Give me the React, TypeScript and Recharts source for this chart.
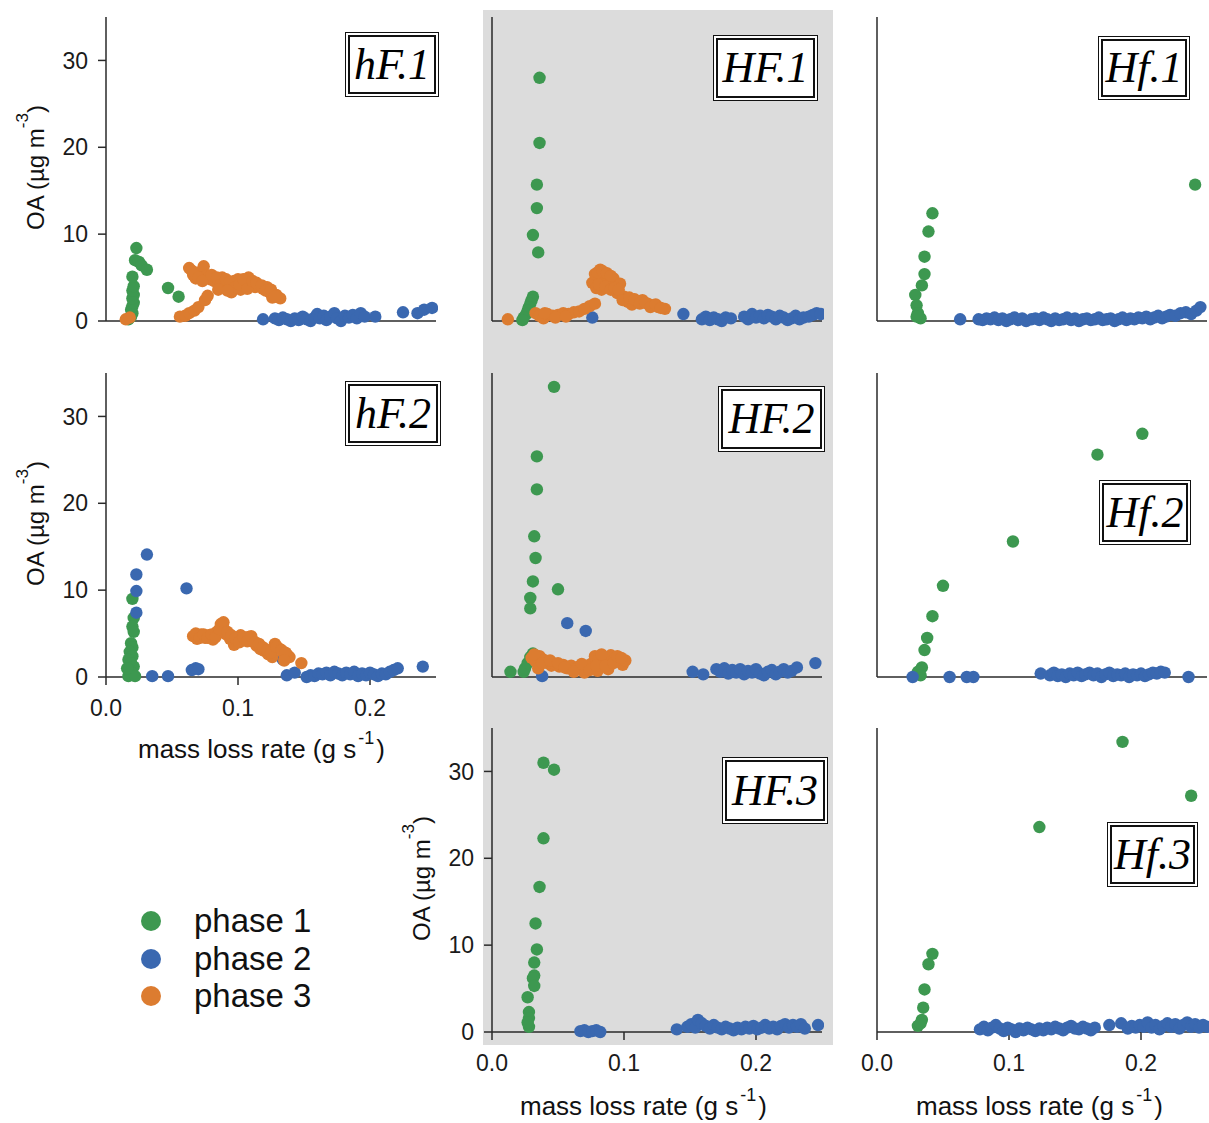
import { Scatter, ScatterChart, XAxis, YAxis } from "recharts"

const GREEN = "#3d9850"
const BLUE = "#3a68b0"
const ORANGE = "#dc7c30"

type Pt = [number, number]

const xTicks = [0, 0.1, 0.2]
const yTicks = [0, 10, 20, 30]
const phaseNames = ["phase 1", "phase 2", "phase 3"]
const panelNames = ["hF.1", "HF.1", "Hf.1", "hF.2", "HF.2", "Hf.2", "HF.3", "Hf.3"]

// ---- hF.1
const hF1_p1: Pt[] = [[0.017,0.2],[0.019,0.5],[0.020,0.9],[0.019,1.3],[0.020,1.7],[0.021,2.1],[0.020,2.6],[0.021,3.0],[0.020,3.5],[0.021,4.0],[0.020,5.1],[0.022,7.0],[0.023,8.4],[0.025,6.8],[0.027,6.4],[0.031,5.9],[0.047,3.8],[0.055,2.8]]
const hF1_p2: Pt[] = [[0.119,0.2],[0.128,0.3],[0.131,0.1],[0.134,0.4],[0.137,0.2],[0.140,0.0],[0.143,0.3],[0.146,0.1],[0.149,0.5],[0.152,0.2],[0.155,0.0],[0.158,0.4],[0.160,0.8],[0.162,0.3],[0.165,0.6],[0.167,0.1],[0.170,0.5],[0.173,0.9],[0.175,0.3],[0.178,0.0],[0.181,0.6],[0.184,0.4],[0.187,0.7],[0.190,0.3],[0.193,0.9],[0.196,0.5],[0.204,0.5],[0.225,1.0],[0.236,0.9],[0.241,1.3],[0.247,1.5]]
const hF1_p3: Pt[] = [[0.015,0.2],[0.018,0.4],[0.056,0.5],[0.060,0.6],[0.063,0.9],[0.067,1.2],[0.070,1.6],[0.075,2.4],[0.077,2.9],[0.063,6.1],[0.066,5.3],[0.068,4.9],[0.071,5.6],[0.074,6.3],[0.076,5.2],[0.079,4.8],[0.082,4.6],[0.085,4.4],[0.088,5.0],[0.090,4.3],[0.093,3.8],[0.095,3.3],[0.097,4.6],[0.100,4.8],[0.102,3.6],[0.105,4.1],[0.108,5.0],[0.110,4.3],[0.113,3.9],[0.116,4.0],[0.119,3.7],[0.122,3.9],[0.124,3.3],[0.126,2.7],[0.129,3.0],[0.132,2.6],[0.065,5.8],[0.070,5.0],[0.073,4.6],[0.080,5.3],[0.084,5.0],[0.087,4.2],[0.091,4.8],[0.094,4.5],[0.098,3.9],[0.101,4.2],[0.104,4.8],[0.107,3.7],[0.111,4.6],[0.114,4.4],[0.118,4.1],[0.121,3.5],[0.125,3.6],[0.128,2.8],[0.085,3.6],[0.092,3.5]]

// ---- HF.1
const HF1_p1: Pt[] = [[0.036,28.0],[0.036,20.5],[0.034,15.7],[0.034,13.0],[0.031,9.9],[0.035,7.9],[0.031,2.8],[0.030,2.4],[0.029,2.0],[0.028,1.6],[0.027,1.2],[0.026,0.8],[0.024,0.4],[0.023,0.1]]
const HF1_p2: Pt[] = [[0.076,0.4],[0.145,0.8],[0.159,0.2],[0.162,0.5],[0.165,0.1],[0.168,0.4],[0.171,0.2],[0.174,0.0],[0.177,0.4],[0.181,0.3],[0.191,0.5],[0.194,0.2],[0.197,0.8],[0.200,0.4],[0.203,0.6],[0.206,0.3],[0.209,0.7],[0.212,0.5],[0.215,0.2],[0.218,0.6],[0.221,0.4],[0.224,0.1],[0.227,0.3],[0.230,0.6],[0.233,0.2],[0.236,0.4],[0.240,0.5],[0.243,0.7],[0.246,0.9],[0.249,0.8]]
const HF1_p3: Pt[] = [[0.012,0.2],[0.033,0.9],[0.036,0.6],[0.039,0.3],[0.042,0.8],[0.046,0.6],[0.050,0.7],[0.054,0.9],[0.058,0.8],[0.062,1.0],[0.066,1.1],[0.070,1.4],[0.074,1.7],[0.078,2.0],[0.076,4.4],[0.078,5.4],[0.082,5.9],[0.085,5.2],[0.083,3.6],[0.088,4.5],[0.092,4.9],[0.095,3.2],[0.097,4.3],[0.100,2.8],[0.103,2.2],[0.106,1.9],[0.110,2.3],[0.114,2.4],[0.118,2.0],[0.122,1.8],[0.126,1.6],[0.131,1.4],[0.080,5.6],[0.084,5.7],[0.087,5.5],[0.090,5.2],[0.079,3.8],[0.081,4.2],[0.086,4.0],[0.090,3.6],[0.093,3.8],[0.096,3.6],[0.099,2.4],[0.104,2.7],[0.108,2.5],[0.112,2.0],[0.116,2.1],[0.120,1.6],[0.124,1.9],[0.128,1.5],[0.040,0.9],[0.048,0.4],[0.056,0.5]]

// ---- Hf.1
const Hf1_p1: Pt[] = [[0.241,15.7],[0.042,12.4],[0.039,10.3],[0.036,7.4],[0.036,5.4],[0.034,4.1],[0.029,3.0],[0.030,1.8],[0.031,0.9],[0.033,0.3],[0.030,0.5]]
const Hf1_p2: Pt[] = [[0.063,0.2],[0.077,0.2],[0.080,0.1],[0.083,0.3],[0.086,0.2],[0.089,0.4],[0.092,0.1],[0.095,0.3],[0.098,0.0],[0.101,0.2],[0.104,0.4],[0.107,0.1],[0.110,0.3],[0.113,0.0],[0.117,0.2],[0.120,0.3],[0.123,0.1],[0.126,0.4],[0.129,0.2],[0.132,0.0],[0.135,0.3],[0.138,0.1],[0.141,0.2],[0.144,0.4],[0.147,0.1],[0.150,0.3],[0.153,0.0],[0.156,0.2],[0.159,0.3],[0.162,0.1],[0.165,0.2],[0.168,0.4],[0.171,0.1],[0.174,0.2],[0.177,0.3],[0.180,0.0],[0.183,0.2],[0.186,0.4],[0.189,0.1],[0.192,0.3],[0.195,0.2],[0.198,0.4],[0.201,0.3],[0.204,0.5],[0.207,0.2],[0.210,0.4],[0.213,0.6],[0.216,0.3],[0.219,0.5],[0.222,0.7],[0.226,0.6],[0.230,0.9],[0.234,1.0],[0.238,0.8],[0.242,1.2],[0.245,1.6]]
const Hf1_p3: Pt[] = []

// ---- hF.2
const hF2_p1: Pt[] = [[0.020,9.0],[0.021,6.8],[0.020,5.8],[0.021,5.2],[0.019,3.9],[0.020,3.4],[0.018,2.9],[0.020,2.4],[0.017,2.0],[0.019,1.6],[0.021,1.2],[0.018,0.8],[0.020,0.4],[0.017,0.1],[0.022,0.1],[0.016,1.0]]
const hF2_p2: Pt[] = [[0.031,14.1],[0.023,11.8],[0.023,9.9],[0.023,7.4],[0.061,10.2],[0.035,0.1],[0.047,0.1],[0.065,0.8],[0.068,1.0],[0.070,0.9],[0.134,2.0],[0.137,0.2],[0.143,0.5],[0.152,0.0],[0.155,0.2],[0.158,0.1],[0.161,0.4],[0.164,0.3],[0.167,0.5],[0.170,0.2],[0.173,0.6],[0.176,0.4],[0.179,0.2],[0.182,0.5],[0.185,0.3],[0.188,0.6],[0.191,0.1],[0.194,0.4],[0.197,0.2],[0.200,0.5],[0.203,0.3],[0.206,0.1],[0.209,0.4],[0.212,0.3],[0.215,0.6],[0.218,0.8],[0.221,1.0],[0.240,1.2]]
const hF2_p3: Pt[] = [[0.066,4.7],[0.069,4.4],[0.072,4.9],[0.075,4.5],[0.078,4.8],[0.081,4.3],[0.084,5.2],[0.087,6.1],[0.089,5.6],[0.091,4.9],[0.094,4.4],[0.097,3.7],[0.099,4.2],[0.102,4.8],[0.105,4.3],[0.108,4.6],[0.111,4.1],[0.114,3.6],[0.117,3.2],[0.120,3.0],[0.123,2.6],[0.126,2.3],[0.128,3.8],[0.131,3.3],[0.134,2.9],[0.137,2.6],[0.139,2.3],[0.148,1.6],[0.068,5.0],[0.071,4.5],[0.074,4.9],[0.077,4.5],[0.080,4.9],[0.083,4.6],[0.086,5.5],[0.089,6.3],[0.092,5.2],[0.095,4.8],[0.098,4.5],[0.101,4.0],[0.104,4.6],[0.107,4.1],[0.110,4.7],[0.113,4.0],[0.116,3.8],[0.119,3.4],[0.122,3.1],[0.125,2.8],[0.129,3.5],[0.133,3.1],[0.136,2.8],[0.135,1.9]]

// ---- HF.2
const HF2_p1: Pt[] = [[0.047,33.4],[0.034,25.4],[0.034,21.6],[0.032,16.2],[0.033,13.7],[0.031,11.0],[0.050,10.1],[0.029,9.1],[0.029,7.9],[0.014,0.6],[0.024,0.6],[0.025,1.0],[0.027,1.6],[0.029,2.3],[0.031,2.7]]
const HF2_p2: Pt[] = [[0.057,6.2],[0.071,5.3],[0.038,0.1],[0.152,0.6],[0.160,0.3],[0.170,0.9],[0.173,0.6],[0.176,1.0],[0.179,0.4],[0.182,0.8],[0.185,0.5],[0.188,0.9],[0.191,0.3],[0.194,0.7],[0.197,0.5],[0.200,0.9],[0.203,0.4],[0.206,0.2],[0.209,0.6],[0.212,0.8],[0.215,0.3],[0.218,0.6],[0.221,0.9],[0.224,0.5],[0.227,0.7],[0.231,1.1],[0.245,1.6]]
const HF2_p3: Pt[] = [[0.030,2.2],[0.033,1.8],[0.036,2.4],[0.039,2.0],[0.042,1.6],[0.045,1.3],[0.048,1.5],[0.051,1.2],[0.054,1.4],[0.057,1.0],[0.060,1.3],[0.063,0.9],[0.066,1.2],[0.069,0.8],[0.072,1.1],[0.075,1.5],[0.078,2.4],[0.081,2.0],[0.084,1.6],[0.087,2.2],[0.090,2.5],[0.093,2.1],[0.096,1.8],[0.099,1.4],[0.101,1.9],[0.035,1.0],[0.070,0.5],[0.080,0.7],[0.088,0.9],[0.032,2.6],[0.038,1.6],[0.044,1.9],[0.050,1.6],[0.055,1.1],[0.062,0.6],[0.068,1.5],[0.074,0.8],[0.079,1.3],[0.083,2.6],[0.086,1.3],[0.092,1.6],[0.095,2.4],[0.098,2.2]]

// ---- Hf.2
const Hf2_p1: Pt[] = [[0.201,28.0],[0.167,25.6],[0.103,15.6],[0.050,10.5],[0.042,7.0],[0.038,4.5],[0.036,3.1],[0.034,1.1],[0.031,0.6],[0.033,0.2]]
const Hf2_p2: Pt[] = [[0.027,0.0],[0.055,0.0],[0.068,0.0],[0.073,0.0],[0.124,0.4],[0.131,0.2],[0.134,0.5],[0.137,0.1],[0.140,0.3],[0.143,0.0],[0.146,0.4],[0.149,0.2],[0.152,0.5],[0.155,0.1],[0.158,0.3],[0.161,0.5],[0.164,0.2],[0.167,0.4],[0.170,0.0],[0.173,0.3],[0.176,0.5],[0.179,0.1],[0.182,0.3],[0.185,0.2],[0.188,0.4],[0.191,0.0],[0.194,0.3],[0.197,0.2],[0.200,0.4],[0.203,0.1],[0.206,0.3],[0.209,0.5],[0.212,0.4],[0.215,0.6],[0.218,0.5],[0.236,0.0]]
const Hf2_p3: Pt[] = []

// ---- HF.3
const HF3_p1: Pt[] = [[0.039,31.0],[0.047,30.2],[0.039,22.3],[0.036,16.7],[0.033,12.5],[0.034,9.5],[0.032,8.0],[0.032,6.5],[0.031,6.2],[0.032,5.3],[0.027,4.0],[0.028,2.3],[0.028,1.6],[0.028,0.6],[0.027,1.1]]
const HF3_p2: Pt[] = [[0.067,0.1],[0.070,0.2],[0.073,0.0],[0.076,0.1],[0.079,0.2],[0.082,0.0],[0.140,0.3],[0.148,0.6],[0.151,0.9],[0.154,0.5],[0.156,1.4],[0.159,1.0],[0.162,0.7],[0.165,0.4],[0.168,0.8],[0.171,0.5],[0.174,0.3],[0.177,0.6],[0.180,0.4],[0.183,0.2],[0.186,0.5],[0.189,0.3],[0.192,0.6],[0.195,0.4],[0.198,0.7],[0.201,0.3],[0.204,0.5],[0.207,0.8],[0.210,0.4],[0.213,0.6],[0.216,0.3],[0.219,0.7],[0.222,0.9],[0.225,0.5],[0.228,0.8],[0.231,0.6],[0.234,0.9],[0.237,0.4],[0.247,0.8]]
const HF3_p3: Pt[] = []

// ---- Hf.3
const Hf3_p1: Pt[] = [[0.186,33.4],[0.238,27.2],[0.123,23.6],[0.042,9.0],[0.039,7.8],[0.036,4.9],[0.035,2.8],[0.034,1.4],[0.031,0.7],[0.033,1.0]]
const Hf3_p2: Pt[] = [[0.078,0.3],[0.081,0.6],[0.084,0.2],[0.087,0.5],[0.090,0.8],[0.093,0.4],[0.096,0.1],[0.099,0.5],[0.102,0.3],[0.105,0.0],[0.108,0.4],[0.111,0.2],[0.114,0.5],[0.117,0.3],[0.120,0.1],[0.123,0.4],[0.126,0.2],[0.129,0.5],[0.132,0.3],[0.135,0.6],[0.138,0.4],[0.141,0.2],[0.144,0.5],[0.147,0.7],[0.150,0.4],[0.153,0.3],[0.156,0.6],[0.159,0.4],[0.162,0.2],[0.165,0.5],[0.176,0.8],[0.185,1.0],[0.190,0.4],[0.193,0.7],[0.196,0.5],[0.199,0.8],[0.202,0.6],[0.205,1.1],[0.208,0.5],[0.211,0.8],[0.214,0.3],[0.217,0.7],[0.220,1.0],[0.223,0.6],[0.226,0.9],[0.229,0.4],[0.232,0.8],[0.235,1.1],[0.238,0.6],[0.241,0.9],[0.244,0.5],[0.247,0.8],[0.250,0.6]]
const Hf3_p3: Pt[] = []

const toObj = (a: Pt[]) => a.map(([x, y]) => ({ x, y }))

const SANS = "'Liberation Sans', Arial, sans-serif"
const SERIF = "'Liberation Serif', 'Times New Roman', serif"
const AXIS = { stroke: "#2a2a2a", strokeWidth: 1.5 }
const TICK = { fontSize: 23, fill: "#1a1a1a", fontFamily: SANS }

// marker drawn at the position the library computes
const dot = (color: string) => (props: any) =>
  <circle cx={props.cx} cy={props.cy} r={6.2} fill={color} />

const PLOT_W = 330
const PLOT_H = 304
const PAD_L = 80
const PAD_R = 2
const PAD_T = 12
const PAD_B = 50

function Panel({ x0, y0, p1, p2, p3, showY, showX }: any) {
  return (
    <div style={{ position: "absolute", left: x0 - PAD_L, top: y0 - PLOT_H - PAD_T }}>
      <ScatterChart
        width={PLOT_W + PAD_L + PAD_R}
        height={PLOT_H + PAD_T + PAD_B}
        margin={{ top: PAD_T, right: PAD_R, bottom: 0, left: 0 }}
      >
        <XAxis
          type="number"
          dataKey="x"
          domain={[0, 0.25]}
          ticks={xTicks}
          height={PAD_B}
          axisLine={AXIS}
          tickLine={showX ? AXIS : false}
          tick={showX ? TICK : false}
          tickSize={8}
          tickMargin={15}
          tickFormatter={(v: number) => v.toFixed(1)}
        />
        <YAxis
          type="number"
          dataKey="y"
          domain={[0, 35]}
          ticks={yTicks}
          width={PAD_L}
          axisLine={AXIS}
          tickLine={showY ? AXIS : false}
          tick={showY ? TICK : false}
          tickSize={8}
          tickMargin={10}
        />
        <Scatter data={toObj(p1)} fill={GREEN} shape={dot(GREEN)} isAnimationActive={false} />
        <Scatter data={toObj(p2)} fill={BLUE} shape={dot(BLUE)} isAnimationActive={false} />
        <Scatter data={toObj(p3)} fill={ORANGE} shape={dot(ORANGE)} isAnimationActive={false} />
      </ScatterChart>
    </div>
  )
}

const COLS = [106, 492, 877]
const ROWS = [321, 677, 1032]

const panels = [
  { c: 0, r: 0, p1: hF1_p1, p2: hF1_p2, p3: hF1_p3, showY: true, showX: false },
  { c: 1, r: 0, p1: HF1_p1, p2: HF1_p2, p3: HF1_p3, showY: false, showX: false },
  { c: 2, r: 0, p1: Hf1_p1, p2: Hf1_p2, p3: Hf1_p3, showY: false, showX: false },
  { c: 0, r: 1, p1: hF2_p1, p2: hF2_p2, p3: hF2_p3, showY: true, showX: true },
  { c: 1, r: 1, p1: HF2_p1, p2: HF2_p2, p3: HF2_p3, showY: false, showX: false },
  { c: 2, r: 1, p1: Hf2_p1, p2: Hf2_p2, p3: Hf2_p3, showY: false, showX: false },
  { c: 1, r: 2, p1: HF3_p1, p2: HF3_p2, p3: HF3_p3, showY: true, showX: true },
  { c: 2, r: 2, p1: Hf3_p1, p2: Hf3_p2, p3: Hf3_p3, showY: false, showX: true },
]

// tag boxes: left, top, width, height
const tagBoxes = [
  [345, 32, 94, 65], [713, 35, 105, 66], [1098, 36, 92, 64],
  [345, 381, 96, 65], [718, 386, 107, 66], [1099, 480, 92, 65],
  [722, 757, 106, 67], [1107, 822, 91, 65],
]

function YTitle({ x, y }: { x: number; y: number }) {
  return (
    <text transform={`translate(${x},${y}) rotate(-90)`} fontSize={24} fontFamily={SANS} fill="#111">
      OA (µg m<tspan dy={-16} fontSize={17}>-3</tspan><tspan dy={16}>)</tspan>
    </text>
  )
}

function XTitle({ x, y }: { x: number; y: number }) {
  return (
    <text x={x} y={y} fontSize={26} fontFamily={SANS} fill="#111">
      mass loss rate (g s<tspan dx={2} dy={-14} fontSize={18}>-1</tspan><tspan dx={2} dy={14}>)</tspan>
    </text>
  )
}

export default function App() {
  const legendColors = [GREEN, BLUE, ORANGE]
  const legendY = [921, 959, 996]
  return (
    <div style={{ position: "absolute", left: 0, top: 0, width: 1209, height: 1123, overflow: "hidden", background: "#fff" }}>
      <div style={{ position: "absolute", left: 483, top: 10, width: 350, height: 1035, background: "#dcdcdc" }} />
      {panels.map((p, i) => (
        <Panel key={i} x0={COLS[p.c]} y0={ROWS[p.r]} p1={p.p1} p2={p.p2} p3={p.p3} showY={p.showY} showX={p.showX} />
      ))}
      <svg width={1209} height={1123} style={{ position: "absolute", left: 0, top: 0, pointerEvents: "none" }}>
        <YTitle x={44} y={230} />
        <YTitle x={44} y={586} />
        <YTitle x={430} y={941} />
        <XTitle x={138} y={758} />
        <XTitle x={520} y={1115} />
        <XTitle x={916} y={1115} />
        {phaseNames.map((n, i) => (
          <g key={n}>
            <circle cx={151} cy={legendY[i]} r={10} fill={legendColors[i]} />
            <text x={194} y={legendY[i] + 11} fontSize={33} fontFamily={SANS} fill="#111">{n}</text>
          </g>
        ))}
      </svg>
      {panelNames.map((name, i) => {
        const [l, t, w, h] = tagBoxes[i]
        return (
          <div key={name} style={{ position: "absolute", left: l, top: t, width: w, height: h, boxSizing: "border-box", border: "1px solid #111", padding: 2, background: "#fff" }}>
            <div style={{ width: "100%", height: "100%", boxSizing: "border-box", border: "2px solid #111", display: "flex", alignItems: "center", justifyContent: "center", fontFamily: SERIF, fontStyle: "italic", fontSize: 44, color: "#000", lineHeight: 1 }}>
              {name}
            </div>
          </div>
        )
      })}
    </div>
  )
}
